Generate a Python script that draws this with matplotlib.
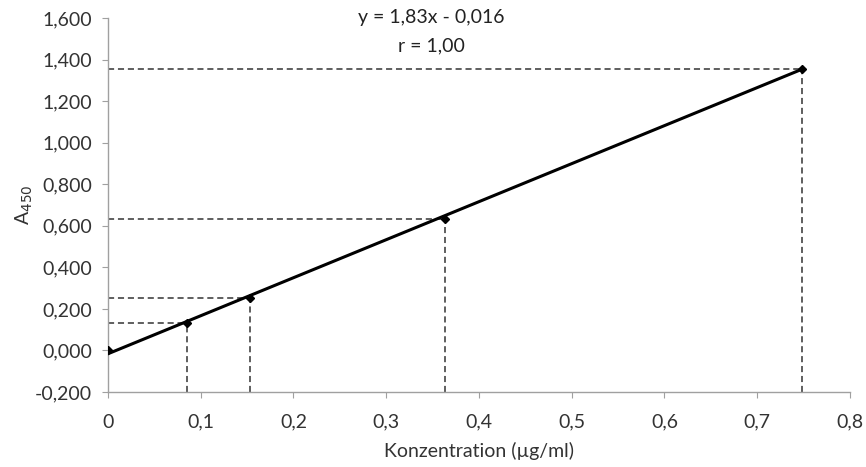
import matplotlib.pyplot as plt
from matplotlib.ticker import FuncFormatter

plt.rcParams['font.family'] = ['Lato', 'DejaVu Sans']

# Standards (concentration in µg/ml, absorbance at 450 nm)
konz = [0.0, 0.0855, 0.153, 0.363, 0.748]
a450 = [0.0, 0.130, 0.250, 0.632, 1.353]

# Regression line y = 1,83x - 0,016
slope = 1.83
intercept = -0.016

x_ticks = [0, 0.1, 0.2, 0.3, 0.4, 0.5, 0.6, 0.7, 0.8]
y_ticks = [-0.2, 0.0, 0.2, 0.4, 0.6, 0.8, 1.0, 1.2, 1.4, 1.6]

fig = plt.figure(figsize=(8.66, 4.67), dpi=100)
ax = fig.add_axes([0.1247, 0.1606, 0.9815 - 0.1247, 0.9615 - 0.1606])

xmin, xmax = 0, 0.8
ymin, ymax = -0.2, 1.6

# guide lines to the axes
for x, y in zip(konz[1:], a450[1:]):
    ax.plot([xmin, x], [y, y], ls=(0, (4, 2.5)), color='#333333', lw=1.1, zorder=2)
    ax.plot([x, x], [ymin, y], ls=(0, (4, 2.5)), color='#333333', lw=1.1, zorder=2)

xfit = [0, max(konz)]
yfit = [slope * v + intercept for v in xfit]
ax.plot(xfit, yfit, color='black', lw=2.2, zorder=3)
ax.plot(konz, a450, ls='none', marker='D', ms=4.2, color='black', zorder=4)

ax.set_xlim(xmin, xmax)
ax.set_ylim(ymin, ymax)
ax.set_xticks(x_ticks)
ax.set_yticks(y_ticks)
ax.xaxis.set_major_formatter(FuncFormatter(lambda v, p: '0' if v == 0 else f'{v:.1f}'.replace('.', ',')))
ax.yaxis.set_major_formatter(FuncFormatter(lambda v, p: f'{v:.3f}'.replace('.', ',')))

for s in ['top', 'right']:
    ax.spines[s].set_visible(False)
for s in ['left', 'bottom']:
    ax.spines[s].set_color('#a0a0a0')
    ax.spines[s].set_linewidth(1.0)
ax.tick_params(axis='both', colors='#a0a0a0', labelcolor='#333333', labelsize=14, length=4.5, width=0.8)
ax.tick_params(axis='y', pad=7)
ax.tick_params(axis='x', pad=11)

ax.set_xlabel('Konzentration (µg/ml)', fontsize=14, color='#333333', labelpad=8)
ax.set_ylabel('A$_{450}$', fontsize=14, color='#333333')
ax.yaxis.set_label_coords(-0.098, 0.5)

ax.text(0.349, 1.60, 'y = 1,83x - 0,016', ha='center', va='center', fontsize=14, color='#222222')
ax.text(0.349, 1.468, 'r = 1,00', ha='center', va='center', fontsize=14, color='#222222')

fig.savefig('out.png', dpi=100)
